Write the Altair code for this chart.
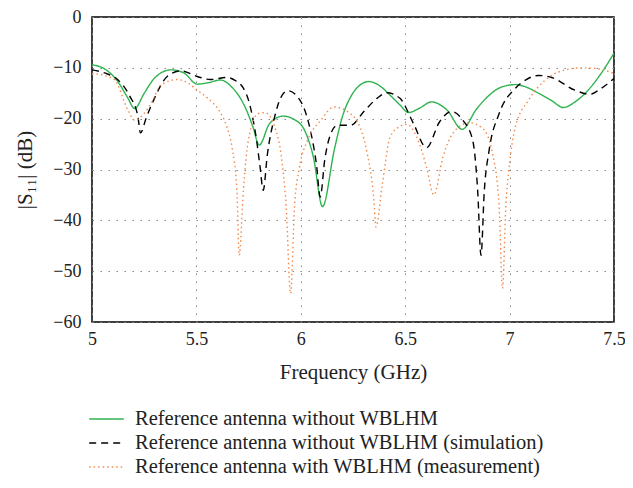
import altair as alt
import pandas as pd

# Green solid: Reference antenna without WBLHM
f_green = [5.0, 5.06, 5.12, 5.17, 5.204, 5.25, 5.3, 5.378, 5.44, 5.504, 5.56, 5.615, 5.67, 5.733, 5.77,
           5.801, 5.85, 5.915, 5.97, 6.017, 6.06, 6.104, 6.16, 6.2, 6.239, 6.28, 6.325, 6.38, 6.428,
           6.475, 6.515, 6.57, 6.626, 6.7, 6.773, 6.84, 6.902, 6.96, 7.028, 7.08, 7.139, 7.2, 7.257,
           7.32, 7.376, 7.44, 7.5]
db_green = [-9.4, -10.2, -12.5, -15.8, -18.0, -15.0, -12.0, -10.4, -11.0, -13.2, -12.9, -12.4, -13.8, -17.7, -21.5,
            -25.2, -21.0, -19.5, -20.2, -22.2, -27.5, -37.3, -26.2, -19.5, -15.7, -13.5, -12.7, -13.6, -15.4,
            -17.3, -18.8, -17.9, -16.7, -18.3, -22.1, -18.2, -15.4, -13.8, -13.3, -13.8, -15.0, -16.4, -17.8,
            -16.5, -14.4, -11.0, -7.1]

# Black dashed: Reference antenna without WBLHM (simulation)
f_black = [5.0, 5.06, 5.125, 5.18, 5.22, 5.232, 5.26, 5.299, 5.36, 5.425, 5.504, 5.567, 5.646, 5.69, 5.725,
           5.749, 5.788, 5.805, 5.82, 5.84, 5.875, 5.905, 5.938, 6.001, 6.049, 6.075, 6.093, 6.115, 6.144,
           6.175, 6.239, 6.302, 6.365, 6.412, 6.475, 6.539, 6.602, 6.665, 6.72, 6.776, 6.823, 6.847,
           6.863, 6.879, 6.902, 6.95, 7.028, 7.08, 7.139, 7.202, 7.313, 7.384, 7.44, 7.5]
db_black = [-10.4, -11.0, -12.4, -15.5, -19.6, -22.8, -19.8, -16.0, -11.7, -10.6, -11.7, -12.3, -11.9, -12.6, -14.0,
            -16.3, -24.2, -29.5, -34.1, -27.0, -19.6, -15.8, -14.5, -16.7, -22.9, -29.0, -35.4, -28.0, -22.9,
            -21.3, -21.3, -18.6, -16.0, -14.9, -16.0, -20.9, -25.7, -20.6, -18.6, -20.3, -24.2, -34.1,
            -46.9, -34.1, -26.2, -19.0, -14.0, -12.3, -11.5, -11.9, -14.4, -15.2, -14.0, -12.1]

# Orange dotted: Reference antenna with WBLHM (measurement)
f_orange = [5.0, 5.06, 5.109, 5.172, 5.204, 5.283, 5.33, 5.409, 5.46, 5.504, 5.555, 5.607, 5.645, 5.67,
            5.694, 5.705, 5.725, 5.749, 5.796, 5.828, 5.875, 5.907, 5.93, 5.951, 5.97, 5.994, 6.033,
            6.096, 6.16, 6.223, 6.286, 6.318, 6.35, 6.36, 6.389, 6.428, 6.475, 6.507, 6.555, 6.602,
            6.637, 6.681, 6.728, 6.807, 6.871, 6.918, 6.95, 6.966, 6.982, 6.998, 7.028, 7.092, 7.171,
            7.25, 7.344, 7.408, 7.5]
db_orange = [-11.1, -11.5, -12.4, -18.3, -20.3, -17.0, -13.4, -12.3, -13.0, -14.4, -16.0, -18.3, -21.5, -25.5,
             -34.1, -46.9, -34.1, -24.2, -19.0, -18.8, -21.6, -27.5, -37.3, -54.4, -37.3, -29.5, -24.2,
             -20.3, -17.7, -18.6, -21.9, -26.8, -36.0, -41.3, -33.4, -23.6, -21.5, -21.1, -23.6, -29.5,
             -35.0, -27.5, -22.9, -20.8, -21.9, -26.8, -37.3, -53.4, -37.3, -29.5, -21.6, -16.3, -12.4,
             -10.6, -10.0, -10.1, -11.1]

names = [
    "Reference antenna without WBLHM",
    "Reference antenna without WBLHM (simulation)",
    "Reference antenna with WBLHM (measurement)",
]
colors = ["#2eb34f", "#000000", "#f5894a"]
dashes = [[1, 0], [7, 5], [1.5, 3]]

rows = []
for name, fs, ds in zip(names, [f_green, f_black, f_orange], [db_green, db_black, db_orange]):
    for i, (f, d) in enumerate(zip(fs, ds)):
        rows.append({"series": name, "f": f, "db": d, "order": i})
df = pd.DataFrame(rows)

FONT = "Liberation Serif"

chart = alt.Chart(df).mark_line(interpolate="monotone", strokeWidth=1.4, clip=True).encode(
    x=alt.X("f:Q", scale=alt.Scale(domain=[5, 7.5], nice=False),
            axis=alt.Axis(title="Frequency (GHz)", values=[5, 5.5, 6, 6.5, 7, 7.5],
                          format="~g", labelFlush=False, titlePadding=13, labelPadding=8)),
    y=alt.Y("db:Q", scale=alt.Scale(domain=[-60, 0], nice=False),
            axis=alt.Axis(title="|S₁₁| (dB)", values=[0, -10, -20, -30, -40, -50, -60],
                          titlePadding=17, labelPadding=11)),
    color=alt.Color("series:N", scale=alt.Scale(domain=names, range=colors),
                    legend=alt.Legend(title=None, orient="none", legendX=-4, legendY=391,
                                      direction="vertical", symbolType="stroke", symbolSize=1200,
                                      clipHeight=22,
                                      symbolStrokeWidth=1.4, labelFontSize=20.5, labelFont=FONT,
                                      labelColor="#222", rowPadding=2, labelOffset=10, labelLimit=600)),
    strokeDash=alt.StrokeDash("series:N", scale=alt.Scale(domain=names, range=dashes), legend=None),
    order="order:Q",
).properties(
    width=522, height=305,
    background="white",
    autosize=alt.AutoSizeParams(type="none"),
    padding={"left": 84, "top": 9, "right": 11, "bottom": 158},
).configure_view(
    stroke="#000", strokeWidth=1.5
).configure_axis(
    grid=True, gridColor="#888", gridDash=[1.5, 6.5], gridWidth=1,
    domain=False, ticks=False,
    labelFont=FONT, titleFont=FONT, labelFontSize=18, titleFontSize=21,
    labelColor="#222", titleColor="#222", titleFontWeight="normal",
)

chart.save("out.html", embed_options={"renderer": "svg", "actions": False})
